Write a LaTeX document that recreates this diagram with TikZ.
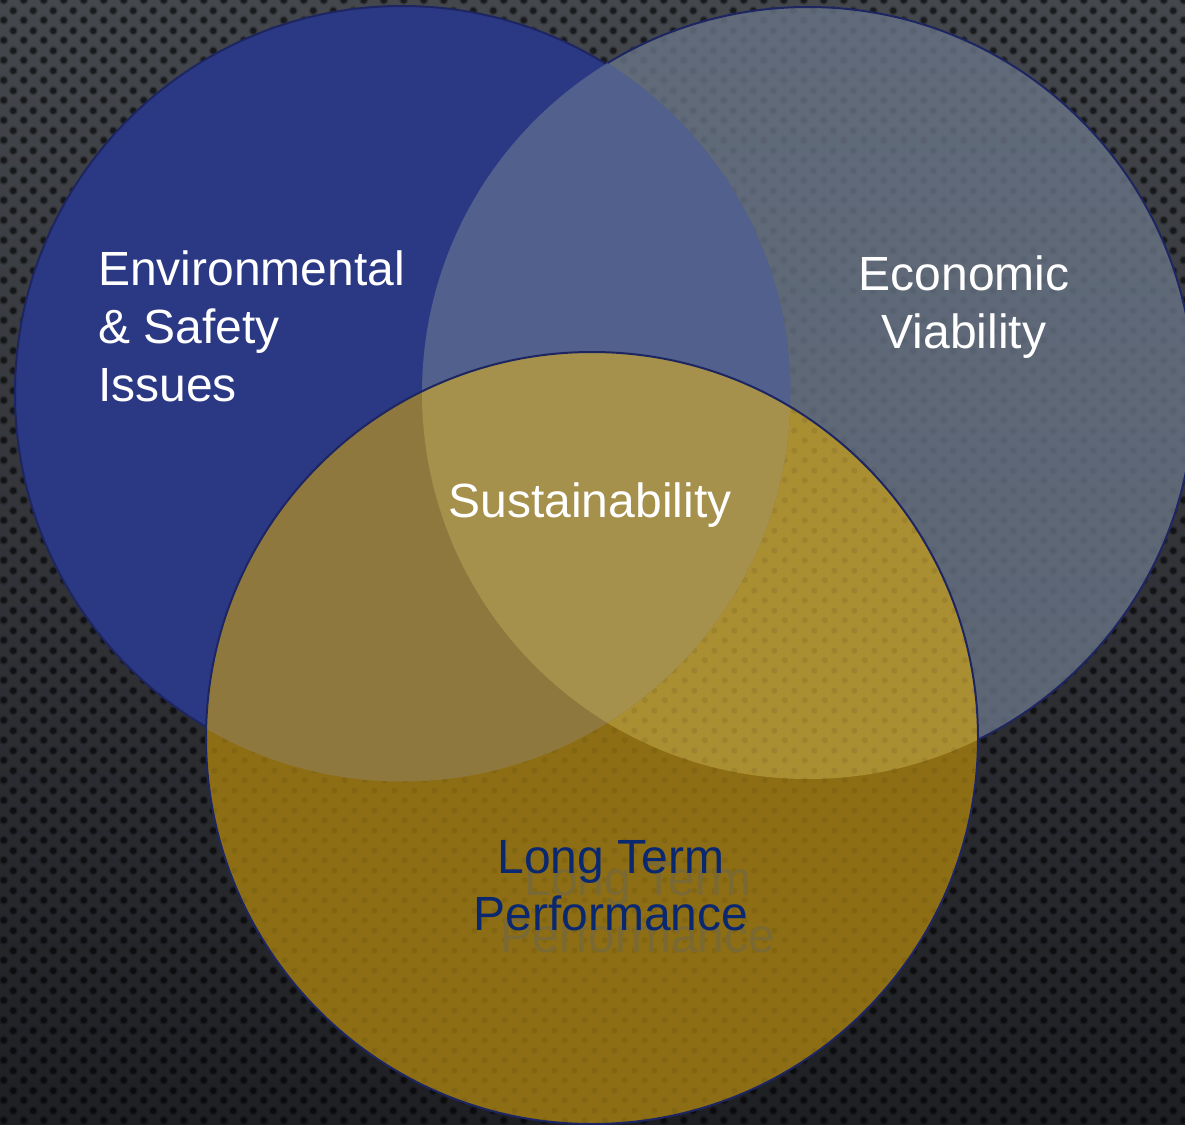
\documentclass[tikz,border=0pt]{standalone}
\usepackage{fontspec}
\setmainfont{Liberation Sans}
\usetikzlibrary{patterns}

\definecolor{bgtop}{RGB}{68,71,76}
\definecolor{bgbot}{RGB}{30,31,35}
\definecolor{ringnavy}{RGB}{30,38,98}
\definecolor{bluefill}{RGB}{43,56,132}
\definecolor{grayfill}{RGB}{104,116,134}
\definecolor{bluegray}{RGB}{82,96,142}
\definecolor{goldfill}{RGB}{142,110,20}
\definecolor{goldblue}{RGB}{143,120,62}
\definecolor{goldgray}{RGB}{170,142,50}
\definecolor{goldtriple}{RGB}{165,145,75}
\definecolor{labelnavy}{RGB}{10,40,112}
\definecolor{ghosttext}{RGB}{122,105,50}

% perforated backdrop: staggered rows of round holes
\pgfdeclarepatternformonly{perfdots}{\pgfpointorigin}{\pgfpoint{20pt}{20pt}}{\pgfpoint{20pt}{20pt}}{%
  \pgfpathcircle{\pgfpoint{5pt}{5pt}}{3.2pt}%
  \pgfpathcircle{\pgfpoint{15pt}{15pt}}{3.2pt}%
  \pgfusepath{fill}}
\pgfdeclarepatternformonly{perfhalo}{\pgfpointorigin}{\pgfpoint{20pt}{20pt}}{\pgfpoint{20pt}{20pt}}{%
  \pgfpathcircle{\pgfpoint{5pt}{5pt}}{4.8pt}%
  \pgfpathcircle{\pgfpoint{15pt}{15pt}}{4.8pt}%
  \pgfusepath{fill}}

\begin{document}
\begin{tikzpicture}[x=1pt,y=-1pt,
  ring/.style={draw=ringnavy, line width=2pt},
  whitelbl/.style={text=white, font=\fontsize{48}{58}\selectfont, inner sep=0pt},
  navylbl/.style={text=labelnavy, font=\fontsize{48}{57}\selectfont, inner sep=0pt},
  ghostlbl/.style={text=ghosttext, font=\fontsize{48}{57}\selectfont, inner sep=0pt}]
\useasboundingbox (0,0) rectangle (1185,1124);
\clip (0,0) rectangle (1185,1124);

% backdrop
\shade[top color=bgtop, bottom color=bgbot] (0,0) rectangle (1185,1124);
\fill[pattern=perfhalo, pattern color=black, fill opacity=0.22] (0,0) rectangle (1185,1124);
\fill[pattern=perfdots, pattern color=black, fill opacity=0.5] (0,0) rectangle (1185,1124);

% circle centres
\coordinate (cBlue) at (402,393);
\coordinate (cGray) at (808,393);
\coordinate (cGold) at (592,738);

% economic circle (translucent)
\fill[grayfill, fill opacity=0.8] (cGray) circle[radius=386];
\draw[ring] (cGray) circle[radius=386];

% environmental circle
\fill[bluefill] (cBlue) circle[radius=387];
\draw[ring] (cBlue) circle[radius=387];
\begin{scope}
  \clip (cGray) circle[radius=386];
  \fill[bluegray] (cBlue) circle[radius=388.5];
\end{scope}

% long-term circle
\fill[goldfill] (cGold) circle[radius=386];
\begin{scope}
  \clip (cGold) circle[radius=386];
  \fill[goldgray] (cGray) circle[radius=386];
  \fill[goldblue] (cBlue) circle[radius=388.5];
  \fill[pattern=perfdots, pattern color=black, fill opacity=0.07, even odd rule]
    (0,0) rectangle (1185,1124) (cBlue) circle[radius=388.5];
  \clip (cGray) circle[radius=386];
  \fill[goldtriple] (cBlue) circle[radius=388.5];
\end{scope}
\draw[ring] (cGold) circle[radius=386];

% labels (base anchor sits on the last line)
\node[whitelbl, align=left, anchor=base west] (env) at (98,401) {Environmental\\\& Safety\\Issues};
\node[whitelbl, align=center, anchor=base] (econ) at (964,348) {Economic\\Viability};
\node[whitelbl, anchor=base] (sust) at (590,517) {Sustainability};
\node[ghostlbl, align=center, anchor=base] (ltpshadow) at (638,952) {Long Term\\Performance};
\node[navylbl, align=center, anchor=base] (ltp) at (611,930) {Long Term\\Performance};
\end{tikzpicture}
\end{document}
